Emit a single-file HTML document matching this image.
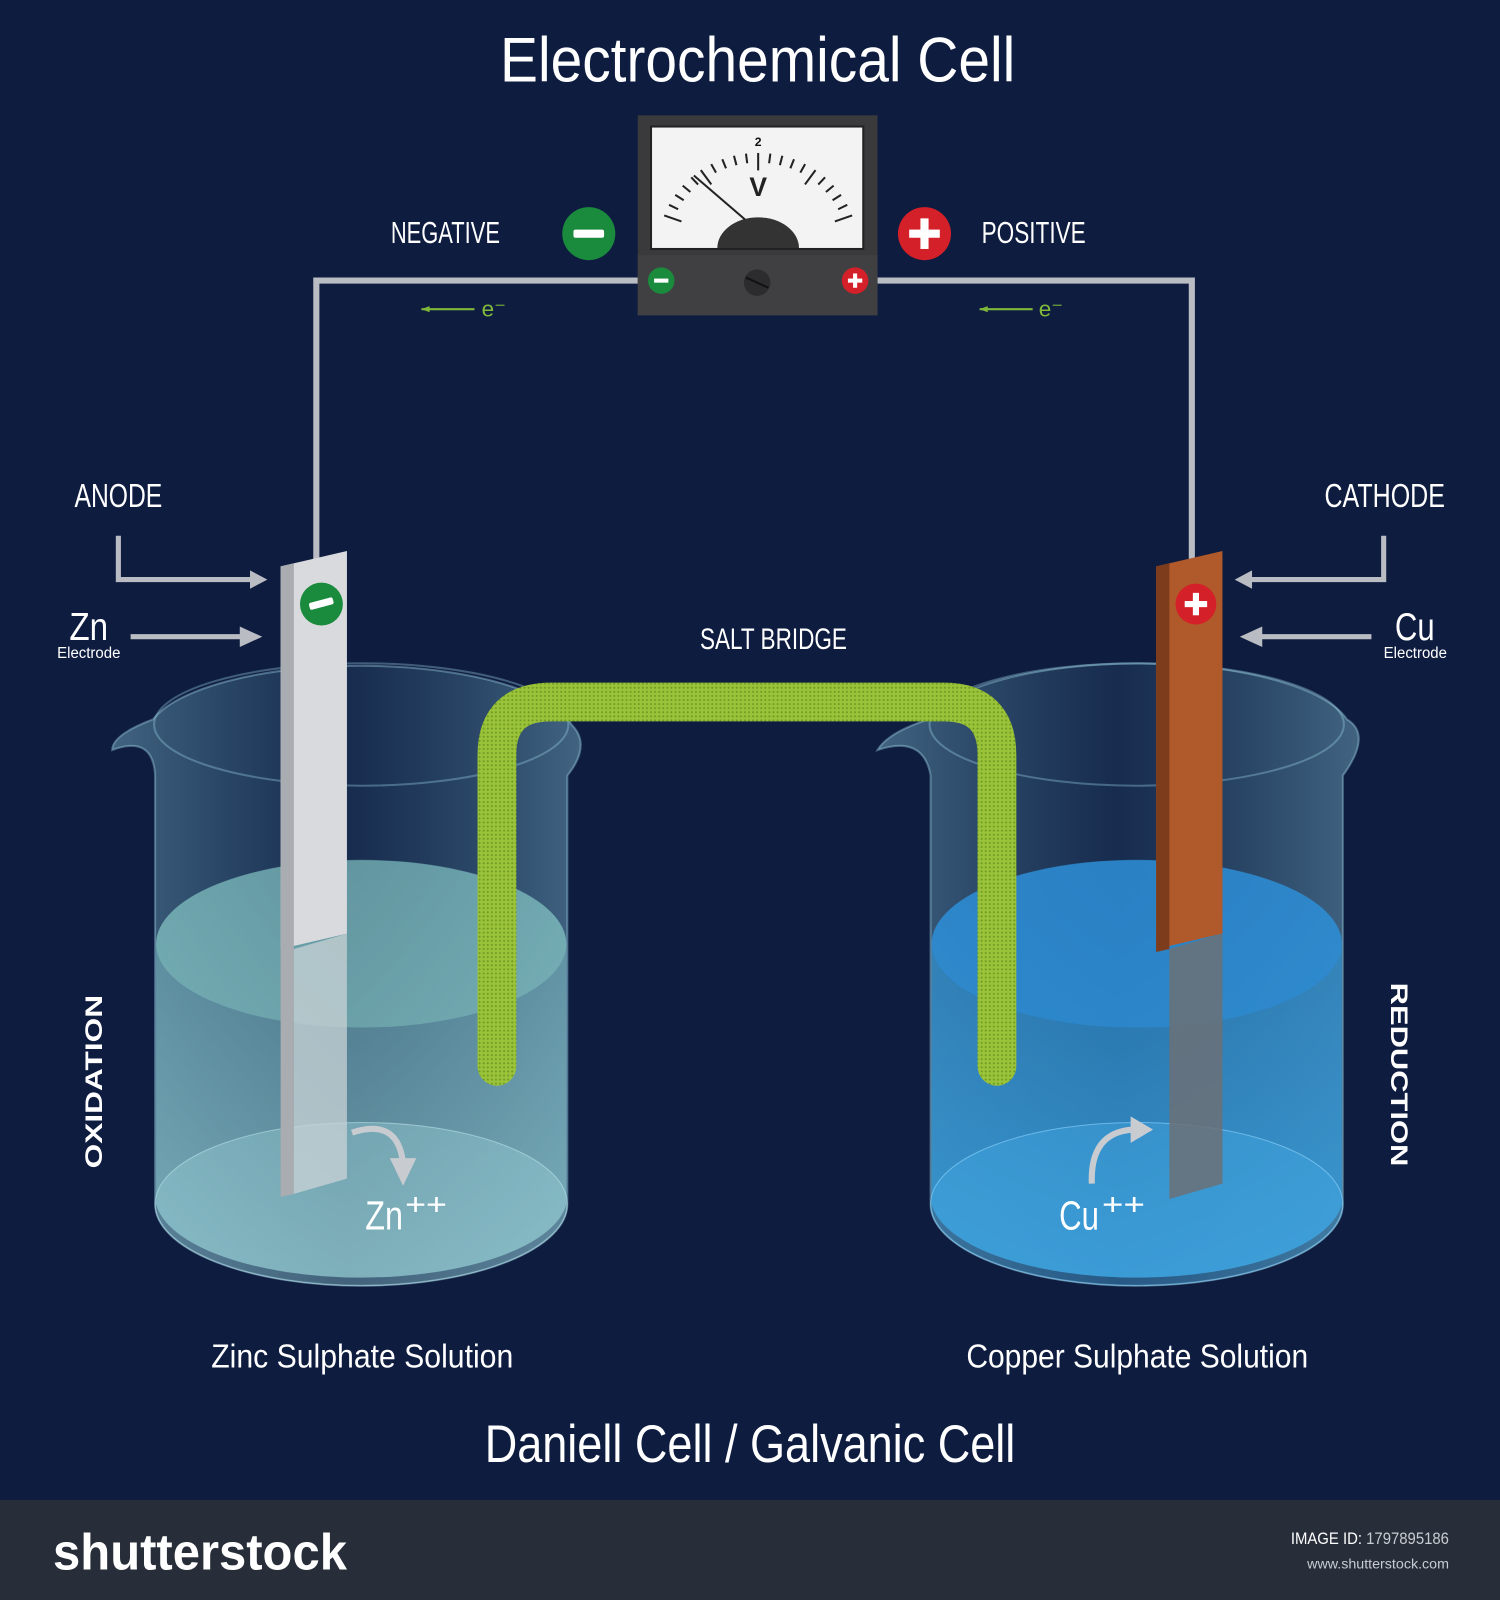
<!DOCTYPE html>
<html><head><meta charset="utf-8"><style>
html,body{margin:0;padding:0;background:#0e1c40;}
svg{display:block;}
text{font-family:"Liberation Sans Narrow","Liberation Sans",sans-serif;}
</style></head><body>
<svg width="1500" height="1600" viewBox="0 0 1470 1568" preserveAspectRatio="none" xmlns="http://www.w3.org/2000/svg">
<defs>
<linearGradient id="glassL" x1="0" x2="1"><stop offset="0" stop-color="#8fd0e4" stop-opacity="0.4"/><stop offset="0.5" stop-color="#5a9fb8" stop-opacity="0.12"/><stop offset="1" stop-color="#8fd0e4" stop-opacity="0.4"/></linearGradient>
<linearGradient id="liqL" x1="0" x2="0" y1="0" y2="1"><stop offset="0" stop-color="#7fc4c9" stop-opacity="0.45"/><stop offset="1" stop-color="#9bd8dc" stop-opacity="0.65"/></linearGradient>
<linearGradient id="liqR" x1="0" x2="0" y1="0" y2="1"><stop offset="0" stop-color="#2e8fd0" stop-opacity="0.65"/><stop offset="1" stop-color="#3aa3e0" stop-opacity="0.85"/></linearGradient>
<pattern id="dots" width="4" height="4" patternUnits="userSpaceOnUse"><rect width="4" height="4" fill="#9bc33a"/><circle cx="2" cy="2" r="1" fill="#6f9a22"/></pattern>
</defs>
<rect x="0" y="0" width="1470" height="1470" fill="#0e1c40"/>
<text x="490" y="80" font-size="62" fill="#fff" textLength="505" lengthAdjust="spacingAndGlyphs">Electrochemical Cell</text>

<polyline points="310,548 310,275 626,275" fill="none" stroke="#b9bcc2" stroke-width="6"/>
<polyline points="858,275 1168,275 1168,548" fill="none" stroke="#b9bcc2" stroke-width="6"/>
<g><line x1="413" y1="303" x2="465" y2="303" stroke="#7fb83a" stroke-width="2"/><polygon points="413,303 421,300 421,306" fill="#7fb83a"/><text x="472" y="310" font-size="22" fill="#7fb83a" font-family="Liberation Serif,serif">e⁻</text></g>
<g><line x1="960" y1="303" x2="1012" y2="303" stroke="#7fb83a" stroke-width="2"/><polygon points="960,303 968,300 968,306" fill="#7fb83a"/><text x="1018" y="310" font-size="22" fill="#7fb83a" font-family="Liberation Serif,serif">e⁻</text></g>

<g>
<rect x="625" y="113" width="235" height="196" fill="#3a3a3c"/>
<rect x="625" y="250" width="235" height="59" fill="#404042"/>
<rect x="638" y="124" width="208" height="120" fill="#f3f3f3" stroke="#222" stroke-width="2"/>
<path d="M703,243 A40,30 0 0 1 783,243 Z" fill="#333"/>
<g id="ticks" stroke="#222" stroke-width="2"></g>
<line x1="730" y1="215" x2="680" y2="172" stroke="#222" stroke-width="2"/>
<text x="743" y="143" font-size="12" text-anchor="middle" fill="#111" font-weight="bold">2</text>
<text x="743" y="192" font-size="26" text-anchor="middle" fill="#222" font-weight="bold">V</text>
<circle cx="742" cy="277" r="13" fill="#2c2c2e"/><line x1="731" y1="272" x2="753" y2="282" stroke="#111" stroke-width="2"/>
<circle cx="648" cy="275" r="13" fill="#1a8a3c"/><rect x="641" y="273" width="14" height="4" fill="#fff"/>
<circle cx="838" cy="275" r="13" fill="#d42028"/><rect x="831" y="273" width="14" height="4" fill="#fff"/><rect x="836" y="268" width="4" height="14" fill="#fff"/>
</g>
<g><text x="383" y="238" font-size="30" fill="#fff" textLength="107" lengthAdjust="spacingAndGlyphs">NEGATIVE</text>
<circle cx="577" cy="229" r="26" fill="#1a8a3c"/><rect x="562" y="225" width="30" height="8" rx="2" fill="#fff"/></g>
<g><text x="962" y="238" font-size="30" fill="#fff" textLength="102" lengthAdjust="spacingAndGlyphs">POSITIVE</text>
<circle cx="906" cy="229" r="26" fill="#d42028"/><rect x="891" y="225" width="30" height="8" fill="#fff"/><rect x="902" y="214" width="8" height="30" fill="#fff"/></g>

<text x="73" y="497" font-size="33" fill="#fff" textLength="86" lengthAdjust="spacingAndGlyphs">ANODE</text>
<polyline points="116,525 116,568 255,568" fill="none" stroke="#b9bcc2" stroke-width="5"/>
<polygon points="262,568 245,559 245,577" fill="#b9bcc2"/>
<text x="68" y="627" font-size="38" fill="#fff" textLength="38" lengthAdjust="spacingAndGlyphs">Zn</text>
<text x="56" y="645" font-size="15" fill="#fff" textLength="62" lengthAdjust="spacingAndGlyphs">Electrode</text>
<line x1="128" y1="624" x2="240" y2="624" stroke="#b9bcc2" stroke-width="5"/><polygon points="257,624 235,614 235,634" fill="#b9bcc2"/>
<text x="1298" y="497" font-size="33" fill="#fff" textLength="118" lengthAdjust="spacingAndGlyphs">CATHODE</text>
<polyline points="1356,525 1356,568 1220,568" fill="none" stroke="#b9bcc2" stroke-width="5"/>
<polygon points="1210,568 1227,559 1227,577" fill="#b9bcc2"/>
<text x="1367" y="627" font-size="38" fill="#fff" textLength="39" lengthAdjust="spacingAndGlyphs">Cu</text>
<text x="1356" y="645" font-size="15" fill="#fff" textLength="62" lengthAdjust="spacingAndGlyphs">Electrode</text>
<line x1="1232" y1="624" x2="1344" y2="624" stroke="#b9bcc2" stroke-width="5"/><polygon points="1215,624 1237,614 1237,634" fill="#b9bcc2"/>
<text x="686" y="636" font-size="29" fill="#fff" textLength="144" lengthAdjust="spacingAndGlyphs">SALT BRIDGE</text>
<text transform="translate(100,1060) rotate(-90)" font-size="24" fill="#fff" text-anchor="middle" font-weight="bold" font-family="Liberation Sans,sans-serif" textLength="170" lengthAdjust="spacingAndGlyphs">OXIDATION</text>
<text transform="translate(1363,1053) rotate(90)" font-size="24" fill="#fff" text-anchor="middle" font-weight="bold" font-family="Liberation Sans,sans-serif" textLength="180" lengthAdjust="spacingAndGlyphs">REDUCTION</text>

<g>
<path d="M110,735 Q150,720 152,760 L152,1180 A202,80 0 0 0 556,1180 L556,760 Q580,730 560,710 A210,70 0 0 0 150,705 Q110,720 110,735 Z" fill="url(#glassL)" stroke="#9fd8e8" stroke-opacity="0.4" stroke-width="2"/>
<ellipse cx="354" cy="710" rx="203" ry="60" fill="none" stroke="#9fd8e8" stroke-opacity="0.35" stroke-width="2"/>
<path d="M153,925 A200,82 0 0 1 555,925 L555,1180 A202,80 0 0 1 153,1180 Z" fill="url(#liqL)"/>
<ellipse cx="354" cy="925" rx="201" ry="82" fill="#8fcfc8" fill-opacity="0.4"/>
<ellipse cx="354" cy="1180" rx="202" ry="80" fill="#a8e0e4" fill-opacity="0.3" stroke="#c8f0f4" stroke-opacity="0.5"/>
</g>
<g>
<path d="M860,735 Q905,720 912,760 L912,1180 A202,80 0 0 0 1316,1180 L1316,760 Q1345,720 1320,705 A210,70 0 0 0 910,705 Q870,718 860,735 Z" fill="url(#glassL)" stroke="#9fd8e8" stroke-opacity="0.4" stroke-width="2"/>
<ellipse cx="1114" cy="710" rx="203" ry="60" fill="none" stroke="#9fd8e8" stroke-opacity="0.35" stroke-width="2"/>
<path d="M913,925 A200,82 0 0 1 1315,925 L1315,1180 A202,80 0 0 1 913,1180 Z" fill="url(#liqR)"/>
<ellipse cx="1114" cy="925" rx="201" ry="82" fill="#2c8cd6" fill-opacity="0.65"/>
<ellipse cx="1114" cy="1180" rx="202" ry="80" fill="#49b0ea" fill-opacity="0.35" stroke="#8fd6ff" stroke-opacity="0.6"/>
</g>

<path d="M487,1045 L487,740 Q487,688 540,688 L925,688 Q977,688 977,740 L977,1045" fill="none" stroke="url(#dots)" stroke-width="38" stroke-linecap="round"/>

<g>
<polygon points="275,555 340,540 340,915 275,930" fill="#d8dadd"/>
<polygon points="275,555 288,552 288,1170 275,1173" fill="#a9acb0"/>
<polygon points="288,930 340,915 340,1155 288,1170" fill="#c9d3d6" fill-opacity="0.75"/>
<circle cx="315" cy="592" r="21" fill="#1a8a3c"/><rect x="303" y="588" width="24" height="7" rx="2" fill="#fff" transform="rotate(-15 315 592)"/>
</g>
<g>
<polygon points="1133,555 1198,540 1198,915 1133,930" fill="#b0592a"/>
<polygon points="1133,555 1146,552 1146,930 1133,933" fill="#7d3d1c"/>
<polygon points="1146,930 1198,915 1198,1160 1146,1175" fill="#6c7076" fill-opacity="0.85"/>
<circle cx="1172" cy="592" r="20" fill="#d42028"/><rect x="1161" y="589" width="22" height="6" fill="#fff"/><rect x="1169" y="581" width="6" height="22" fill="#fff"/>
</g>
<g>
<path d="M345,1110 Q390,1095 395,1140" fill="none" stroke="#c8cbd0" stroke-width="6"/><polygon points="382,1135 408,1135 395,1162" fill="#c8cbd0"/>
<text x="358" y="1205" font-size="40" fill="#fff" textLength="37" lengthAdjust="spacingAndGlyphs">Zn</text><text x="397" y="1190" font-size="30" fill="#fff" textLength="41" lengthAdjust="spacingAndGlyphs">++</text></g>
<g>
<path d="M1070,1160 Q1068,1110 1110,1107" fill="none" stroke="#c8cbd0" stroke-width="6"/><polygon points="1108,1094 1130,1107 1108,1120" fill="#c8cbd0"/>
<text x="1038" y="1205" font-size="40" fill="#fff" textLength="39" lengthAdjust="spacingAndGlyphs">Cu</text><text x="1080" y="1190" font-size="30" fill="#fff" textLength="42" lengthAdjust="spacingAndGlyphs">++</text></g>

<text x="207" y="1340" font-size="33" fill="#fff" textLength="296" lengthAdjust="spacingAndGlyphs">Zinc Sulphate Solution</text>
<text x="947" y="1340" font-size="33" fill="#fff" textLength="335" lengthAdjust="spacingAndGlyphs">Copper Sulphate Solution</text>
<text x="475" y="1433" font-size="52" fill="#fff" textLength="520" lengthAdjust="spacingAndGlyphs">Daniell Cell / Galvanic Cell</text>

<rect x="0" y="1470" width="1470" height="98" fill="#282e39"/>
<text x="52" y="1538" font-size="50" fill="#fff" font-weight="bold" textLength="288" lengthAdjust="spacingAndGlyphs">shutterstock</text>
<text x="1265" y="1513" font-size="16" fill="#fff" textLength="155" lengthAdjust="spacingAndGlyphs">IMAGE ID: <tspan fill="#c8ccd2">1797895186</tspan></text>
<text x="1281" y="1537" font-size="14" fill="#c8ccd2" textLength="139" lengthAdjust="spacingAndGlyphs">www.shutterstock.com</text>
</svg>
<script>
const g=document.getElementById('ticks');
for(let i=0;i<=20;i++){
  const a=Math.PI*(160-140*i/20)/180;
  const cx=743,cy=243,r1=(i%5===0)?80:88,r2=98;
  const l=document.createElementNS('http://www.w3.org/2000/svg','line');
  
  
  l.setAttribute('x1',cx+r1*Math.cos(a));l.setAttribute('y1',cy-r1*Math.sin(a)*0.95);
  l.setAttribute('x2',cx+r2*Math.cos(a));l.setAttribute('y2',cy-r2*Math.sin(a)*0.95);
  g.appendChild(l);
}
</script>
</body></html>
